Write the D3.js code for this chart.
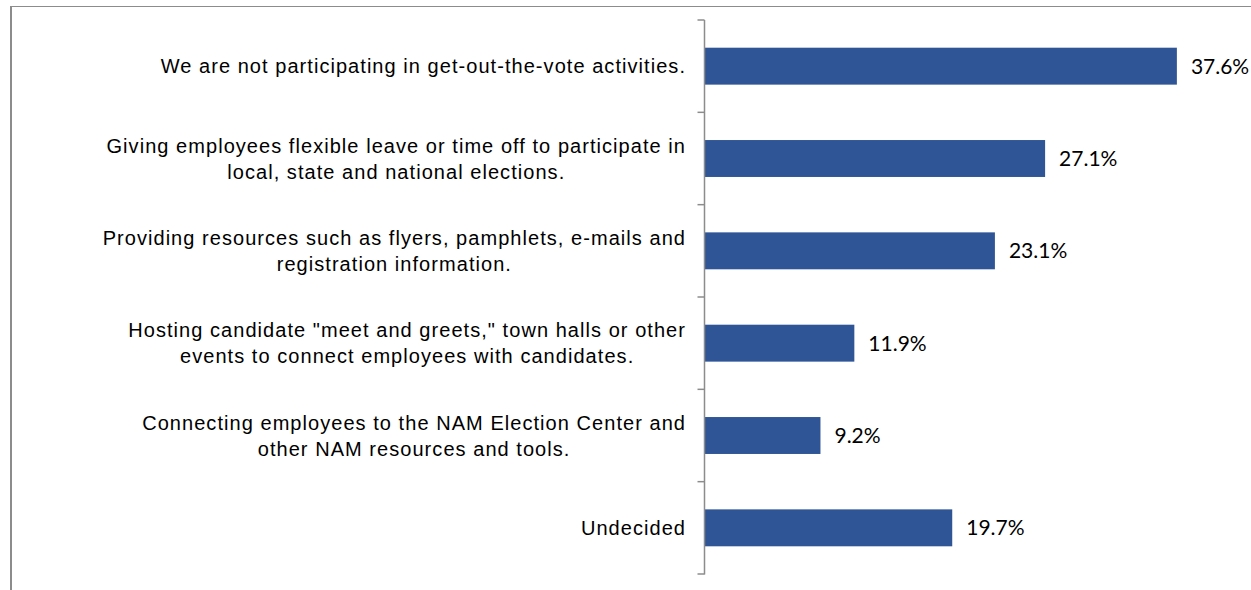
<!DOCTYPE html>
<html>
<head>
<meta charset="utf-8">
<script src="https://cdn.jsdelivr.net/npm/d3@7"></script>
<style>
  html, body { margin: 0; padding: 0; background: #fff; }
  svg { display: block; }
</style>
</head>
<body>
<svg id="chart" width="1251" height="590"></svg>
<script>
// Get-out-the-vote activities, share of respondents (%)
const categories = [
  ["We are not participating in get-out-the-vote activities."],
  ["Giving employees flexible leave or time off to participate in", "local, state and national elections."],
  ["Providing resources such as flyers, pamphlets, e-mails and", "registration information."],
  ["Hosting candidate \"meet and greets,\" town halls or other", "events to connect employees with candidates."],
  ["Connecting employees to the NAM Election Center and", "other NAM resources and tools."],
  ["Undecided"]
];
const values = [37.6, 27.1, 23.1, 11.9, 9.2, 19.7];
const valueLabels = ["37.6%", "27.1%", "23.1%", "11.9%", "9.2%", "19.7%"];

const svg = d3.select("#chart");
const W = 1251, H = 590;

// frame around the chart area
svg.append("line").attr("x1", 10).attr("x2", W).attr("y1", 6.5).attr("y2", 6.5)
  .attr("stroke", "#8c8c8c").attr("stroke-width", 1.2);
svg.append("line").attr("x1", 11).attr("x2", 11).attr("y1", 6).attr("y2", H)
  .attr("stroke", "#8c8c8c").attr("stroke-width", 2);

const axisX = 704.5;
const y = d3.scaleBand().domain(d3.range(categories.length)).range([20, 574]).paddingInner(0.6).paddingOuter(0.3);
const x = d3.scaleLinear().domain([0, 40]).range([axisX + 0.5, axisX + 0.5 + 502]);

// bars
svg.append("g").selectAll("rect").data(values).join("rect")
  .attr("x", x(0))
  .attr("y", (d, i) => y(i))
  .attr("width", d => x(d) - x(0))
  .attr("height", y.bandwidth())
  .attr("fill", "#2F5597");

// value labels
svg.append("g").selectAll("text").data(values).join("text")
  .attr("x", d => x(d) + 14)
  .attr("y", (d, i) => y(i) + y.bandwidth() / 2)
  .attr("dy", "0.36em")
  .attr("font-family", "Lato, 'Open Sans', sans-serif")
  .attr("font-size", 21)
  .attr("fill", "#000")
  .text((d, i) => valueLabels[i]);

// category axis: vertical line with ticks at band boundaries
const edges = d3.range(categories.length + 1).map(i => 20 + i * (554 / categories.length));
const axisG = svg.append("g");
axisG.append("line").attr("x1", axisX).attr("x2", axisX).attr("y1", 20).attr("y2", 574.5)
  .attr("stroke", "#8c8c8c").attr("stroke-width", 1.5);
axisG.selectAll("line.tick").data(edges).join("line").attr("class", "tick")
  .attr("x1", axisX - 7).attr("x2", axisX).attr("y1", d => d).attr("y2", d => d)
  .attr("stroke", "#8c8c8c").attr("stroke-width", 1.5);

// category labels, right edge at 686, wrapped lines centred on the first line
const labelRight = 686;
const lineGap = 26;
const labelG = svg.append("g")
  .attr("font-family", "'Liberation Sans', Arial, sans-serif")
  .attr("font-size", 20)
  .attr("letter-spacing", "1.05px")
  .attr("fill", "#000");
categories.forEach((lines, i) => {
  const cy = y(i) + y.bandwidth() / 2;
  const top = cy - (lines.length - 1) * lineGap / 2;
  const probe = labelG.append("text").text(lines[0]);
  const w0 = probe.node().getComputedTextLength();
  probe.remove();
  const cx = labelRight - w0 / 2;
  lines.forEach((ln, j) => {
    labelG.append("text")
      .attr("x", cx)
      .attr("y", top + j * lineGap)
      .attr("dy", "0.35em")
      .attr("text-anchor", "middle")
      .text(ln);
  });
});
</script>
</body>
</html>
